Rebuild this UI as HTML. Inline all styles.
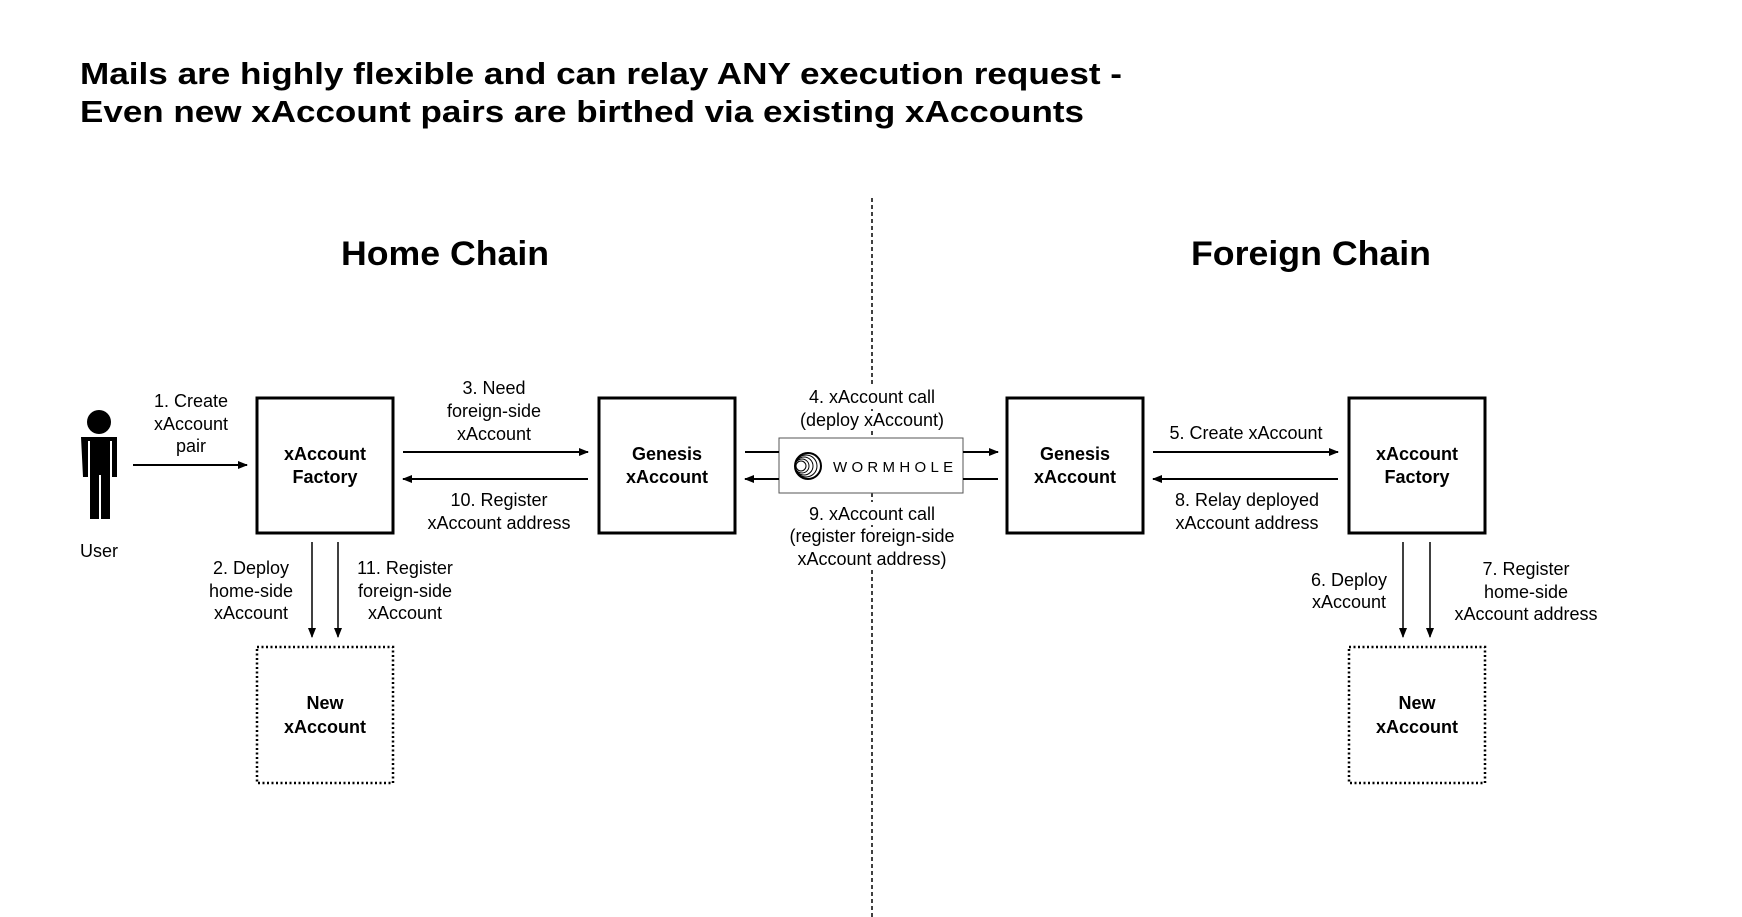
<!DOCTYPE html>
<html><head><meta charset="utf-8"><style>
html,body{margin:0;padding:0;background:#fff;}
svg{display:block;}
text{font-family:"Liberation Sans",sans-serif;fill:#000;}
.l{font-size:18px;text-anchor:middle;}
.b{font-size:18px;font-weight:bold;text-anchor:middle;}
</style></head><body>
<svg width="1742" height="917" viewBox="0 0 1742 917" xmlns="http://www.w3.org/2000/svg">
<defs>
<marker id="ah" markerWidth="10" markerHeight="8" refX="9" refY="4" orient="auto" markerUnits="userSpaceOnUse">
<path d="M0,0 L10,4 L0,8 z" fill="#000"/></marker>
</defs>
<text x="80" y="84" font-size="31" font-weight="bold" textLength="1042" lengthAdjust="spacingAndGlyphs">Mails are highly flexible and can relay ANY execution request -</text>
<text x="80" y="122" font-size="31" font-weight="bold" textLength="1004" lengthAdjust="spacingAndGlyphs">Even new xAccount pairs are birthed via existing xAccounts</text>
<text x="341" y="265" font-size="34" font-weight="bold" textLength="208" lengthAdjust="spacingAndGlyphs">Home Chain</text>
<text x="1191" y="265" font-size="34" font-weight="bold" textLength="240" lengthAdjust="spacingAndGlyphs">Foreign Chain</text>
<g stroke="#000" stroke-width="1.5" stroke-dasharray="4,3">
<line x1="872" y1="198" x2="872" y2="386"/>
<line x1="872" y1="409" x2="872" y2="411"/>
<line x1="872" y1="431" x2="872" y2="438"/>
<line x1="872" y1="493" x2="872" y2="502"/>
<line x1="872" y1="525" x2="872" y2="527"/>
<line x1="872" y1="570" x2="872" y2="917"/>
</g>
<!-- user -->
<circle cx="99" cy="422" r="12" fill="#000"/>
<path d="M81,437 h36 v40 h-5 v-36 h-2 v78 h-9 v-44 h-2 v44 h-9 v-78 h-2 v36 h-5 z" fill="#000"/>
<text class="l" x="99" y="557">User</text>
<!-- boxes -->
<g fill="#fff" stroke="#000" stroke-width="3">
<rect x="257" y="398" width="136" height="135"/>
<rect x="599" y="398" width="136" height="135"/>
<rect x="1007" y="398" width="136" height="135"/>
<rect x="1349" y="398" width="136" height="135"/>
</g>
<g fill="none" stroke="#000" stroke-width="2.5" stroke-dasharray="2,2.5">
<rect x="257" y="647" width="136" height="136"/>
<rect x="1349" y="647" width="136" height="136"/>
</g>
<rect x="779" y="438" width="184" height="55" fill="#fff" stroke="#555" stroke-width="1"/>
<g fill="none" stroke="#000" stroke-width="1">
<circle cx="808" cy="466" r="13" stroke-width="2"/>
<circle cx="806" cy="466" r="11"/><circle cx="804" cy="466" r="9"/><circle cx="802" cy="466" r="7"/><circle cx="801" cy="466" r="5"/>
</g>
<text x="833" y="472" font-size="15" letter-spacing="4.3">WORMHOLE</text>
<text class="b" x="325" y="460">xAccount</text><text class="b" x="325" y="483">Factory</text>
<text class="b" x="667" y="460">Genesis</text><text class="b" x="667" y="483">xAccount</text>
<text class="b" x="1075" y="460">Genesis</text><text class="b" x="1075" y="483">xAccount</text>
<text class="b" x="1417" y="460">xAccount</text><text class="b" x="1417" y="483">Factory</text>
<text class="b" x="325" y="709">New</text><text class="b" x="325" y="733">xAccount</text>
<text class="b" x="1417" y="709">New</text><text class="b" x="1417" y="733">xAccount</text>
<!-- arrows -->
<g stroke="#000" stroke-width="2" fill="none">
<line x1="133" y1="465" x2="247" y2="465" marker-end="url(#ah)"/>
<line x1="403" y1="452" x2="588" y2="452" marker-end="url(#ah)"/>
<line x1="588" y1="479" x2="403" y2="479" marker-end="url(#ah)"/>
<line x1="745" y1="452" x2="779" y2="452"/>
<line x1="779" y1="479" x2="745" y2="479" marker-end="url(#ah)"/>
<line x1="963" y1="452" x2="998" y2="452" marker-end="url(#ah)"/>
<line x1="998" y1="479" x2="963" y2="479"/>
<line x1="1153" y1="452" x2="1338" y2="452" marker-end="url(#ah)"/>
<line x1="1338" y1="479" x2="1153" y2="479" marker-end="url(#ah)"/>
<line x1="312" y1="542" x2="312" y2="637" stroke-width="1.5" marker-end="url(#ah)"/>
<line x1="338" y1="542" x2="338" y2="637" stroke-width="1.5" marker-end="url(#ah)"/>
<line x1="1403" y1="542" x2="1403" y2="637" stroke-width="1.5" marker-end="url(#ah)"/>
<line x1="1430" y1="542" x2="1430" y2="637" stroke-width="1.5" marker-end="url(#ah)"/>
</g>
<!-- labels -->
<text class="l" x="191" y="407">1. Create</text><text class="l" x="191" y="430">xAccount</text><text class="l" x="191" y="452">pair</text>
<text class="l" x="494" y="394">3. Need</text><text class="l" x="494" y="417">foreign-side</text><text class="l" x="494" y="440">xAccount</text>
<text class="l" x="499" y="506">10. Register</text><text class="l" x="499" y="529">xAccount address</text>
<text class="l" x="872" y="403">4. xAccount call</text><text class="l" x="872" y="426">(deploy xAccount)</text>
<text class="l" x="872" y="520">9. xAccount call</text><text class="l" x="872" y="542">(register foreign-side</text><text class="l" x="872" y="565">xAccount address)</text>
<text class="l" x="1246" y="439">5. Create xAccount</text>
<text class="l" x="1247" y="506">8. Relay deployed</text><text class="l" x="1247" y="529">xAccount address</text>
<text class="l" x="251" y="574">2. Deploy</text><text class="l" x="251" y="597">home-side</text><text class="l" x="251" y="619">xAccount</text>
<text class="l" x="405" y="574">11. Register</text><text class="l" x="405" y="597">foreign-side</text><text class="l" x="405" y="619">xAccount</text>
<text class="l" x="1349" y="586">6. Deploy</text><text class="l" x="1349" y="608">xAccount</text>
<text class="l" x="1526" y="575">7. Register</text><text class="l" x="1526" y="598">home-side</text><text class="l" x="1526" y="620">xAccount address</text>
</svg>
</body></html>
